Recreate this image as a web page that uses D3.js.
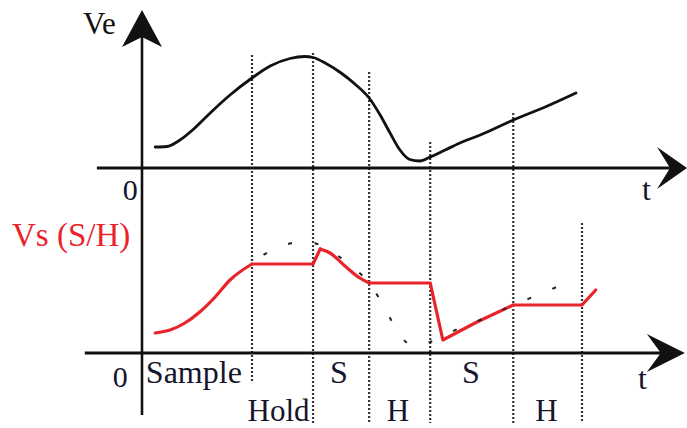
<!DOCTYPE html>
<html>
<head>
<meta charset="utf-8">
<script src="https://cdn.jsdelivr.net/npm/d3@7"></script>
<style>
  body { margin: 0; background: #fff; }
  svg { display: block; }
</style>
</head>
<body>
<script>
// input signal Ve (t in arbitrary time units, v in volts-ish)
const veT = [2.4, 4.5, 6.9, 9.6, 12.4, 16, 20, 23.3, 26.9, 29.6, 31.1, 33.3, 36.2, 38.7, 41.3, 43.3, 45.1, 46.9, 48.7, 50.5, 52.4, 55.1, 57.8, 61.5, 67.5, 73.3, 78.9]
const veV = [2.1, 2.15, 2.8, 4.0, 5.5, 7.3, 9.0, 10.2, 10.95, 11.15, 11.05, 10.5, 9.5, 8.4, 7.0, 5.3, 3.5, 1.8, 0.85, 0.7, 1.1, 1.8, 2.5, 3.3, 4.8, 6.1, 7.5]

// output Vs of the sample & hold, split in smooth (tracking) and straight (hold/jump) pieces
const vsSample1 = [[2.4, 2.0], [5.1, 2.3], [7.8, 3.0], [10.5, 4.1], [13.3, 5.6], [16, 7.3], [20, 8.9]]
const vsHold1   = [[20, 8.9], [31.1, 8.9], [32.4, 10.4]]
const vsSample2 = [[32.4, 10.4], [34.2, 10.0], [36.9, 8.7], [39.6, 7.5], [41.3, 7.0]]
const vsHold2   = [[41.3, 7.0], [52.4, 7.0], [54.7, 1.3], [60.9, 3.1], [67.5, 4.8]]
const vsHold3   = [[67.5, 4.8], [80, 4.8], [82.5, 6.3]]

// switching instants (dotted lines): top end in upper-panel volts, bottom end in lower-panel volts
const switchT   = [20, 31.1, 41.3, 52.4, 67.5, 80]
const switchTop = [11.3, 11.5, 9.6, 2.6, 5.5, -5.5]
const switchBot = [-3.0, -7.0, -7.0, -7.0, -7.0, -7.0]

// phase labels under the lower axis
const phaseText = ["Sample", "S", "S", "Hold", "H", "H"]
const phaseT    = [0.7, 34.2, 58.2, 19.2, 44.5, 71.5]
const phaseRow  = [0, 0, 0, 1, 1, 1]

const W = 687, H = 428
const font = "'Liberation Serif', 'Times New Roman', Times, 'DejaVu Serif', serif"
const svg = d3.select("body").append("svg").attr("width", W).attr("height", H)

const x = d3.scaleLinear().domain([0, 100]).range([142, 692])
const yTop = d3.scaleLinear().domain([0, 10]).range([168, 68])
const yBot = d3.scaleLinear().domain([0, 10]).range([353, 253])

const ink = "#111"
const red = "#e8242a"

// dotted switching lines
switchT.forEach((t, i) => {
  svg.append("line")
    .attr("x1", x(t)).attr("x2", x(t))
    .attr("y1", yTop(switchTop[i])).attr("y2", yBot(switchBot[i]))
    .attr("stroke", "#333").attr("stroke-width", 2.2)
    .attr("stroke-dasharray", "2,2")
})

// axes (drawn as plain lines, no ticks in the original)
function arrow(tipX, tipY, dir, len, half, notch) {
  let p = d3.path()
  if (dir == "up") {
    p.moveTo(tipX, tipY)
    p.lineTo(tipX - half, tipY + len)
    p.lineTo(tipX, tipY + notch)
    p.lineTo(tipX + half, tipY + len)
  } else {
    p.moveTo(tipX, tipY)
    p.lineTo(tipX - len, tipY - half)
    p.lineTo(tipX - notch, tipY)
    p.lineTo(tipX - len, tipY + half)
  }
  p.closePath()
  svg.append("path").attr("d", p.toString()).attr("fill", ink)
}

svg.append("line")
  .attr("x1", x(0)).attr("x2", x(0))
  .attr("y1", yTop(14)).attr("y2", yBot(-6.2))
  .attr("stroke", ink).attr("stroke-width", 2.6)
arrow(x(0), yTop(15.8), "up", 37, 20, 27)

svg.append("line")
  .attr("x1", x(-8.2)).attr("x2", x(97))
  .attr("y1", yTop(0)).attr("y2", yTop(0))
  .attr("stroke", ink).attr("stroke-width", 2.8)
arrow(x(99.1), yTop(0), "right", 30, 21, 17)

svg.append("line")
  .attr("x1", x(-10.4)).attr("x2", x(96))
  .attr("y1", yBot(0)).attr("y2", yBot(0))
  .attr("stroke", ink).attr("stroke-width", 2.8)
arrow(x(98.7), yBot(0), "right", 38, 19, 24)

// Ve curve (top)
const ve = veT.map((t, i) => [t, veV[i]])
const smoothTop = d3.line().x(d => x(d[0])).y(d => yTop(d[1])).curve(d3.curveMonotoneX)
svg.append("path").datum(ve)
  .attr("d", smoothTop)
  .attr("fill", "none").attr("stroke", ink).attr("stroke-width", 2.8)
  .attr("stroke-linecap", "round")

// Vs (bottom)
const smoothBot = d3.line().x(d => x(d[0])).y(d => yBot(d[1])).curve(d3.curveMonotoneX)
const straightBot = d3.line().x(d => x(d[0])).y(d => yBot(d[1]))
;[[vsSample1, smoothBot], [vsHold1, straightBot], [vsSample2, smoothBot], [vsHold2, straightBot], [vsHold3, straightBot]]
  .forEach(([pts, gen]) => {
    svg.append("path").datum(pts)
      .attr("d", gen)
      .attr("fill", "none").attr("stroke", red).attr("stroke-width", 3.2)
      .attr("stroke-linejoin", "round").attr("stroke-linecap", "round")
  })

// the input shown faintly (sparse dashes) under the held output
svg.append("path").datum(ve.filter(d => d[0] >= 20))
  .attr("d", smoothBot)
  .attr("fill", "none").attr("stroke", "#222").attr("stroke-width", 2)
  .attr("stroke-dasharray", "4,23").attr("stroke-dashoffset", -14)

// texts
const txt = "#15152b"
function label(s, px, py, size, color) {
  svg.append("text").attr("x", px).attr("y", py)
    .attr("font-family", font).attr("font-size", size).attr("fill", color)
    .text(s)
}
label("Ve", 83, 34, 31, ink)
label("0", x(-3.5), yTop(-3.2), 30, txt)
label("t", x(90.9), yTop(-3.2), 32, txt)
label("Vs (S/H)", 12, 246, 33, red)
label("0", x(-5.3), yBot(-3.4), 30, txt)
label("t", x(90.2), yBot(-3.6), 32, txt)

phaseText.forEach((s, i) => {
  label(s, x(phaseT[i]), phaseRow[i] ? yBot(-6.8) : yBot(-3.0), phaseRow[i] ? 31 : 32, txt)
})
</script>
</body>
</html>
